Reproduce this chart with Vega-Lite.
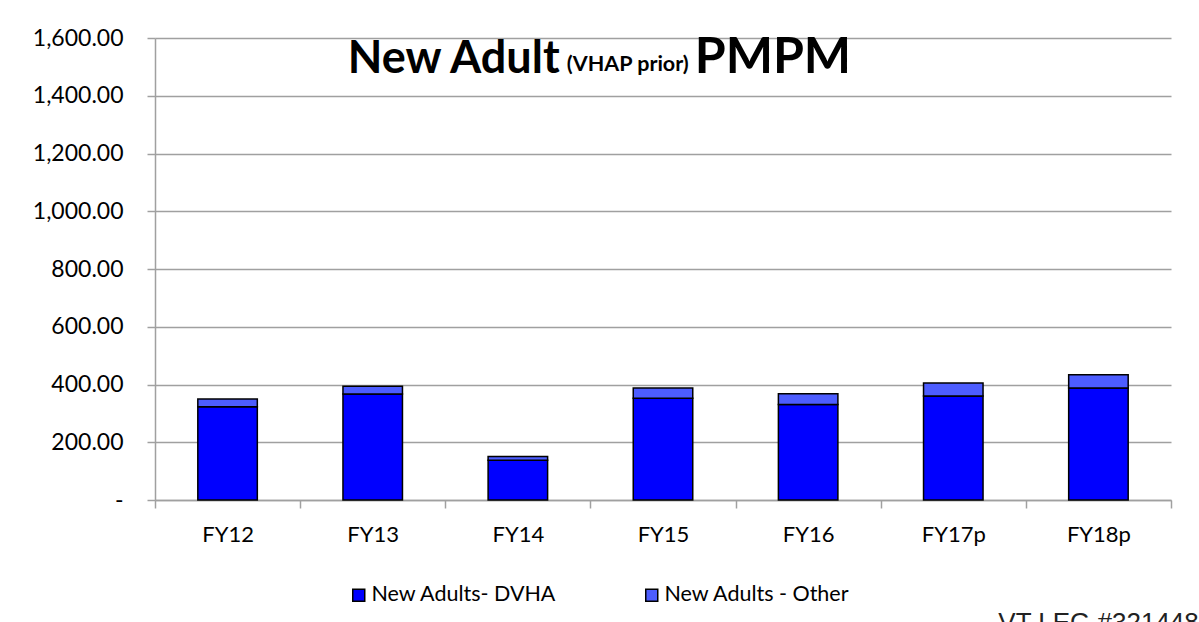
{
  "$schema": "https://vega.github.io/schema/vega-lite/v6.json",
  "width": 1016,
  "height": 462,
  "autosize": {"type": "none"},
  "padding": {"left": 155, "top": 38, "right": 28, "bottom": 122},
  "background": "white",
  "config": {"font": "Lato", "view": {"stroke": null}},
  "title": {
    "text": "VT LEG #321448",
    "orient": "bottom",
    "anchor": "start",
    "dx": 966,
    "offset": 4,
    "font": "Liberation Sans",
    "fontSize": 26,
    "fontWeight": "normal",
    "color": "#222222"
  },
  "datasets": {
    "bars": [
      {"year": "FY12", "series": "New Adults- DVHA", "value": 323},
      {"year": "FY12", "series": "New Adults - Other", "value": 27},
      {"year": "FY13", "series": "New Adults- DVHA", "value": 367},
      {"year": "FY13", "series": "New Adults - Other", "value": 27},
      {"year": "FY14", "series": "New Adults- DVHA", "value": 138},
      {"year": "FY14", "series": "New Adults - Other", "value": 13},
      {"year": "FY15", "series": "New Adults- DVHA", "value": 352},
      {"year": "FY15", "series": "New Adults - Other", "value": 36},
      {"year": "FY16", "series": "New Adults- DVHA", "value": 331},
      {"year": "FY16", "series": "New Adults - Other", "value": 37},
      {"year": "FY17p", "series": "New Adults- DVHA", "value": 360},
      {"year": "FY17p", "series": "New Adults - Other", "value": 45},
      {"year": "FY18p", "series": "New Adults- DVHA", "value": 388},
      {"year": "FY18p", "series": "New Adults - Other", "value": 46}
    ],
    "heading": [
      {"part": "a", "year": "FY13", "value": 1480, "label": "New Adult"},
      {"part": "b", "year": "FY13", "value": 1480, "label": "(VHAP prior)"},
      {"part": "c", "year": "FY13", "value": 1480, "label": "PMPM"}
    ]
  },
  "layer": [
    {
      "data": {"name": "bars"},
      "mark": {"type": "bar", "width": {"band": 0.41}, "stroke": "black", "strokeWidth": 1.5},
      "encoding": {
        "x": {
          "field": "year", "type": "nominal", "sort": null,
          "scale": {"paddingInner": 0, "paddingOuter": 0},
          "axis": {
            "title": null, "labelAngle": 0, "labelFont": "Lato", "labelFontSize": 22, "labelColor": "black",
            "domainColor": "#a0a0a0", "domainWidth": 1.5, "tickColor": "#a0a0a0", "tickWidth": 1.5, "tickSize": 8,
            "tickBand": "extent", "labelPadding": 16
          }
        },
        "y": {
          "field": "value", "type": "quantitative", "stack": "zero",
          "scale": {"domain": [0, 1600], "nice": false},
          "axis": {
            "title": null, "values": [0, 200, 400, 600, 800, 1000, 1200, 1400, 1600],
            "labelExpr": "datum.value == 0 ? '-\u2002' : format(datum.value, ',.2f')",
            "labelFont": "Lato", "labelFontSize": 23, "labelColor": "black", "labelPadding": 24,
            "grid": true, "gridColor": "#a0a0a0", "gridWidth": 1.5,
            "domainColor": "#a0a0a0", "domainWidth": 1.5, "tickColor": "#a0a0a0", "tickWidth": 1.5, "tickSize": 8
          }
        },
        "color": {
          "field": "series", "type": "nominal",
          "scale": {"domain": ["New Adults- DVHA", "New Adults - Other"], "range": ["#0000ff", "#4d5dff"]},
          "legend": {
            "title": null, "orient": "none", "legendX": 193, "legendY": 546, "direction": "horizontal",
            "symbolType": "square", "symbolSize": 144, "symbolStrokeColor": "black", "symbolStrokeWidth": 1.5,
            "labelFont": "Lato", "labelFontSize": 21.5, "labelColor": "black", "labelOffset": 2, "labelLimit": 0,
            "columnPadding": 84
          }
        },
        "order": {"field": "series", "sort": "descending"}
      }
    },
    {
      "data": {"name": "heading"},
      "transform": [{"filter": "datum.part == 'a'"}],
      "mark": {"type": "text", "align": "left", "baseline": "alphabetic", "dx": -25, "font": "Lato", "fontWeight": "bold", "fontSize": 45, "color": "black"},
      "encoding": {
        "x": {"field": "year", "type": "nominal", "sort": null},
        "y": {"field": "value", "type": "quantitative"},
        "text": {"field": "label"}
      }
    },
    {
      "data": {"name": "heading"},
      "transform": [{"filter": "datum.part == 'b'"}],
      "mark": {"type": "text", "align": "left", "baseline": "alphabetic", "dx": 194, "dy": -2, "font": "Lato", "fontWeight": "bold", "fontSize": 21.5, "color": "black"},
      "encoding": {
        "x": {"field": "year", "type": "nominal", "sort": null},
        "y": {"field": "value", "type": "quantitative"},
        "text": {"field": "label"}
      }
    },
    {
      "data": {"name": "heading"},
      "transform": [{"filter": "datum.part == 'c'"}],
      "mark": {"type": "text", "align": "left", "baseline": "alphabetic", "dx": 322, "font": "Lato", "fontWeight": "bold", "fontSize": 50, "color": "black"},
      "encoding": {
        "x": {"field": "year", "type": "nominal", "sort": null},
        "y": {"field": "value", "type": "quantitative"},
        "text": {"field": "label"}
      }
    }
  ]
}
